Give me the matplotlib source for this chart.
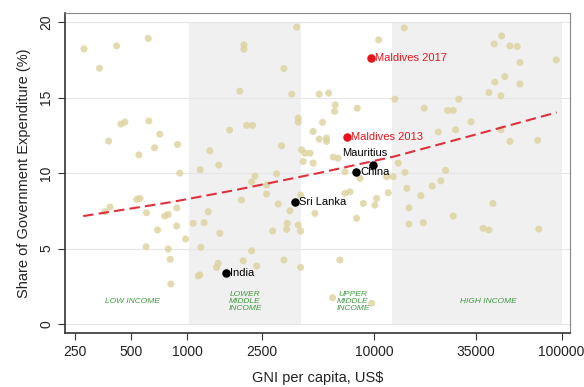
import matplotlib
matplotlib.use("Agg")
import matplotlib.pyplot as plt

plt.rcParams["font.family"] = ["Liberation Sans", "DejaVu Sans"]

# other countries (GNI per capita, share of government expenditure)
gni = [280, 418, 617, 339, 441, 463, 622, 712, 379, 667, 885, 550, 1680, 1318, 1472, 1170, 910,
       557, 535, 385, 362, 604, 757, 789, 878, 1291, 1073, 1228, 692, 875, 1490, 977, 601, 789,
       1180, 809, 1459, 1432, 1165, 1141, 815,
       3837, 2004, 2004, 3281, 10520, 1905, 3614, 5060, 5685, 6165, 6120, 8090, 12850, 3910, 3910,
       5280, 2070, 2230, 4700, 5060, 5545, 5545, 3186, 4075, 4245, 4515, 4155, 6015, 6395, 4700, 2997,
       14420, 47860, 43650, 52970, 57940, 59980, 93760, 49770, 44060, 59980, 40930, 47420, 28260,
       18450, 24600, 26360, 32800, 27160, 21930, 47420, 52970, 74470, 13400, 14550, 23990,
       14900, 20360, 22650, 17700, 15280, 42960, 26360, 15280, 18240, 38110, 40930, 75690,
       1946, 2650, 3055, 3530, 4030, 4800, 6950, 7390, 8710, 10260, 10050, 8020, 11840, 2852, 3415,
       3390, 3910, 4030, 2203, 1987, 2344, 3281, 4030, 6530, 5970, 9660, 2296, 2203, 2650, 11610,
       12590, 8360, 6950]
share = [18.23, 18.43, 18.92, 16.95, 13.25, 13.38, 13.46, 12.58, 12.12, 11.68, 11.90, 11.21, 12.85,
         11.48, 10.53, 10.22, 10.0, 8.32, 8.26, 7.75, 7.44, 7.37, 7.15, 7.26, 7.70, 7.44, 6.67, 6.71,
         6.23, 6.49, 6.01, 5.63, 5.12, 4.97, 5.08, 4.28, 4.02, 3.75, 3.25, 3.18, 2.65,
         19.67, 18.50, 18.21, 16.93, 18.83, 15.43, 15.23, 15.23, 15.30, 14.52, 14.09, 14.30, 14.90,
         13.64, 13.38, 13.36, 13.16, 13.16, 12.76, 12.25, 12.32, 12.10, 11.81, 11.54, 11.32, 11.32,
         10.77, 11.06, 10.99, 10.66, 9.95,
         19.62, 19.09, 18.56, 18.43, 18.39, 17.33, 17.50, 16.40, 16.03, 15.91, 15.34, 15.12, 14.90,
         14.30, 14.15, 14.15, 13.40, 12.87, 12.72, 12.87, 12.10, 12.17, 10.66, 10.05, 10.18,
         8.99, 9.14, 9.49, 8.50, 7.70, 7.99, 7.15, 6.62, 6.71, 6.34, 6.23, 6.29,
         8.21, 8.61, 7.95, 7.50, 8.54, 7.33, 8.66, 8.76, 7.99, 8.32, 7.88, 7.00, 8.70, 6.16, 6.67,
         6.27, 6.56, 6.16, 4.85, 4.19, 3.84, 4.24, 3.75, 4.24, 1.74, 1.37, 9.80, 9.42, 9.21, 9.76,
         9.76, 9.65, 10.09]

# highlighted countries
hl_names = ["India", "Sri Lanka", "China", "Mauritius", "Maldives 2013", "Maldives 2017"]
hl_gni = [1604, 3752, 7955, 9770, 7100, 9600]
hl_share = [3.4, 8.06, 10.1, 10.55, 12.4, 17.6]
hl_colors = ["black", "black", "black", "black", "#e8141c", "#e8141c"]

# fitted line
fit_gni = [277, 805, 1794, 5107, 12850, 36640, 94190]
fit_share = [7.15, 8.06, 8.87, 10.02, 11.11, 12.63, 14.02]

# income groups
groups = ["LOW INCOME", "LOWER\nMIDDLE\nINCOME", "UPPER\nMIDDLE\nINCOME", "HIGH INCOME"]
group_edges = [221, 1025, 4035, 12475, 100000]
group_x = [510, 2030, 7670, 40450]

xticks = [250, 500, 1000, 2500, 10000, 35000, 100000]

fig = plt.figure(figsize=(5.84, 3.87), dpi=100)
ax = fig.add_axes([0.111, 0.1395, 0.865, 0.8265])
ax.set_xscale("log")
ax.set_xlim(221, 111000)
ax.set_ylim(-0.6, 20.6)

for i in range(4):
    if i % 2 == 1:
        ax.fill_between([group_edges[i], group_edges[i + 1]], 0, 20, color="#f0f0f0", lw=0, zorder=0.5)
    ax.text(group_x[i], 1.5, groups[i], color="#3f9a3f", fontsize=6, style="italic",
            ha="center", va="center", linespacing=0.95, zorder=3)

ax.set_yticks([0, 5, 10, 15, 20])
ax.grid(axis="y", color="#e6e6e6", lw=0.8, zorder=0)
ax.set_axisbelow(True)

ax.scatter(gni, share, s=26, color="#dcd29c", alpha=0.8, edgecolors="none", zorder=2)
ax.plot(fit_gni, fit_share, color="#e0303c", lw=1.5, linestyle=(0, (5, 2.5)), zorder=4)

for name, x, y, c in zip(hl_names, hl_gni, hl_share, hl_colors):
    ax.scatter([x], [y], s=26, color=c, zorder=5)
    if name == "Mauritius":
        ax.annotate(name, (x, y), xytext=(-6, 5), textcoords="offset points", fontsize=8,
                    color=c, ha="center", va="bottom", zorder=6)
    else:
        ax.annotate(name, (x, y), xytext=(3, 0), textcoords="offset points", fontsize=8,
                    color=c, ha="left", va="center", zorder=6)

ax.set_xticks(xticks)
ax.set_xticklabels([str(t) for t in xticks])
ax.minorticks_off()
ax.tick_params(axis="both", labelsize=10, length=5, color="#333333", labelcolor="#222222")
for lab in ax.get_yticklabels():
    lab.set_rotation(90)
    lab.set_va("center")

for side in ["top", "right"]:
    ax.spines[side].set_color("#888888")
for side in ["left", "bottom"]:
    ax.spines[side].set_color("#333333")
    ax.spines[side].set_linewidth(1.2)

ax.set_ylabel("Share of Government Expenditure (%)", fontsize=10.5, color="#222222", labelpad=6)
ax.set_xlabel("GNI per capita, US$", fontsize=10.5, color="#222222", labelpad=9)

fig.savefig("out.png", dpi=100)
